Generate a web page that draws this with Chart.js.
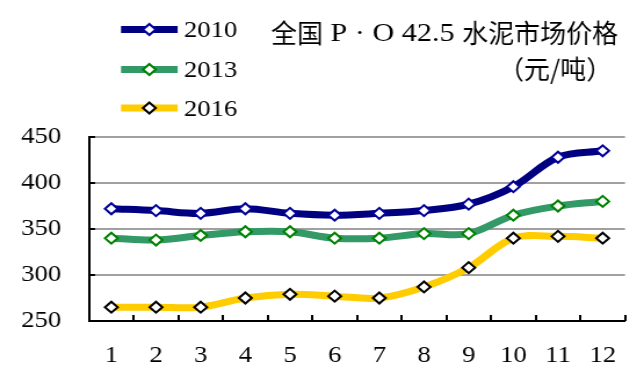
<!DOCTYPE html>
<html><head><meta charset="utf-8">
<script src="https://cdn.jsdelivr.net/npm/chart.js@4/dist/chart.umd.min.js"></script>
<style>
html,body{margin:0;padding:0;background:#fff;overflow:hidden;width:644px;height:382px}
#wrap{position:absolute;left:0;top:0;width:555px;height:382px;transform:scaleX(1.16036);transform-origin:0 0}
</style></head><body>
<div id="wrap"><canvas id="c"></canvas></div>
<script>
const months = ['1','2','3','4','5','6','7','8','9','10','11','12'];
const seriesNames = ['2010','2013','2016'];
const price2010 = [372,370,367,372,367,365,367,370,377,396,428,435];
const price2013 = [340,338,343,347,347,340,340,345,345,365,375,380];
const price2016 = [265,265,265,275,279,277,275,287,308,340,342,340];
const yTicks = [250,300,350,400,450];
const titleLine1 = [['全国',true],[' P · O 42.5 ',false],['水泥市场价格',true]];
const titleLine2 = '（元/吨）';

const S = 644/555;
const LATIN = "'Liberation Serif', 'Times New Roman', serif";
const CJK = "'Noto Sans CJK SC', sans-serif";
const lineColors = ['#000080','#339966','#FFCC00'];
const markerBorders = ['#000099','#008000','#000000'];

const insideTicks = {
  id:'insideTicks',
  afterDraw(chart){
    const ctx = chart.ctx, a = chart.chartArea;
    const xs = chart.scales.x, ys = chart.scales.y;
    ctx.save();
    ctx.strokeStyle = '#000'; ctx.lineWidth = 2;
    const n = xs.ticks.length;
    const step = (a.right - a.left)/n;
    for(let i=1;i<=n;i++){
      const x = Math.round(a.left + i*step);
      ctx.beginPath(); ctx.moveTo(x, a.bottom); ctx.lineTo(x, a.bottom-6); ctx.stroke();
    }
    yTicks.forEach(v=>{
      const y = ys.getPixelForValue(v);
      ctx.beginPath(); ctx.moveTo(a.left, y); ctx.lineTo(a.left+6/S, y); ctx.stroke();
    });
    ctx.restore();
  }
};

function drawDiamond(ctx,x,y,r,border){
  ctx.beginPath();
  ctx.moveTo(x, y-r); ctx.lineTo(x+r, y); ctx.lineTo(x, y+r); ctx.lineTo(x-r, y); ctx.closePath();
  ctx.fillStyle='#fff'; ctx.fill();
  ctx.lineWidth=2; ctx.strokeStyle=border; ctx.stroke();
}

const legendTitle = {
  id:'legendTitle',
  afterDraw(chart){
    const ctx = chart.ctx;
    ctx.save();
    const ys = [29.5, 69.5, 108];
    chart.data.datasets.forEach((ds,i)=>{
      const y = ys[i];
      ctx.strokeStyle = ds.borderColor; ctx.lineWidth = 7; ctx.lineCap='butt';
      ctx.beginPath(); ctx.moveTo(104.3, y); ctx.lineTo(153.1, y); ctx.stroke();
      drawDiamond(ctx, 128.7, y, 5.5, ds.pointBorderColor);
      ctx.fillStyle = '#000'; ctx.font = '23px ' + LATIN;
      ctx.textBaseline = 'middle'; ctx.textAlign = 'left';
      ctx.fillText(ds.label, 158.6, y+1.5);
    });
    // title
    ctx.fillStyle = '#000'; ctx.textBaseline = 'middle'; ctx.textAlign='left';
    let x = 271/S; const y1 = 33.5;
    titleLine1.forEach(([t,isCjk])=>{
      if(isCjk){
        ctx.font = '26px ' + CJK;
        const w = ctx.measureText(t).width;
        ctx.save(); ctx.translate(x, y1); ctx.scale(1/S,1); ctx.fillText(t,0,0); ctx.restore();
        x += w/S;
      } else {
        ctx.font = '26px ' + LATIN;
        ctx.fillText(t, x, y1+1);
        x += ctx.measureText(t).width;
      }
    });
    ctx.font = '26px ' + CJK;
    ctx.save(); ctx.translate(498/S, 69.5); ctx.scale(1/S,1); ctx.fillText(titleLine2,0,0); ctx.restore();
    ctx.restore();
  }
};

const mk = (label, data, i) => ({
  label, data,
  borderColor: lineColors[i], backgroundColor: lineColors[i],
  borderWidth: 7, tension: 0.35,
  pointStyle: 'rectRot', pointRadius: 5.5, pointBorderWidth: 2,
  pointBackgroundColor: '#fff', pointBorderColor: markerBorders[i],
  pointHoverRadius: 5.5
});

new Chart(document.getElementById('c'), {
  type: 'line',
  data: {
    labels: months,
    datasets: [mk(seriesNames[0], price2010, 0), mk(seriesNames[1], price2013, 1), mk(seriesNames[2], price2016, 2)]
  },
  options: {
    responsive: true, maintainAspectRatio: false, animation: false, devicePixelRatio: 1,
    layout: { padding: { top: 137, right: 555 - 625/S, left: 0, bottom: 0 } },
    plugins: { legend: { display: false }, title: { display: false }, tooltip: { enabled: false } },
    scales: {
      x: {
        type: 'category', offset: true,
        grid: { display: false, drawTicks: false },
        border: { display: true, color: '#000', width: 2 },
        ticks: { color: '#000', font: { family: LATIN, size: 23 }, padding: 21, maxRotation: 0, autoSkip: false },
        afterFit(s){ s.height = 61; }
      },
      y: {
        min: 250, max: 450,
        afterBuildTicks(s){ s.ticks = yTicks.map(v => ({ value: v })); },
        grid: { color: '#a0a0a0', lineWidth: 2, drawTicks: false },
        border: { display: true, color: '#000', width: 2 },
        ticks: { color: '#000', font: { family: LATIN, size: 23 }, padding: 24 },
        afterFit(s){ s.width = 89/S; }
      }
    }
  },
  plugins: [insideTicks, legendTitle]
});
</script>
</body></html>
